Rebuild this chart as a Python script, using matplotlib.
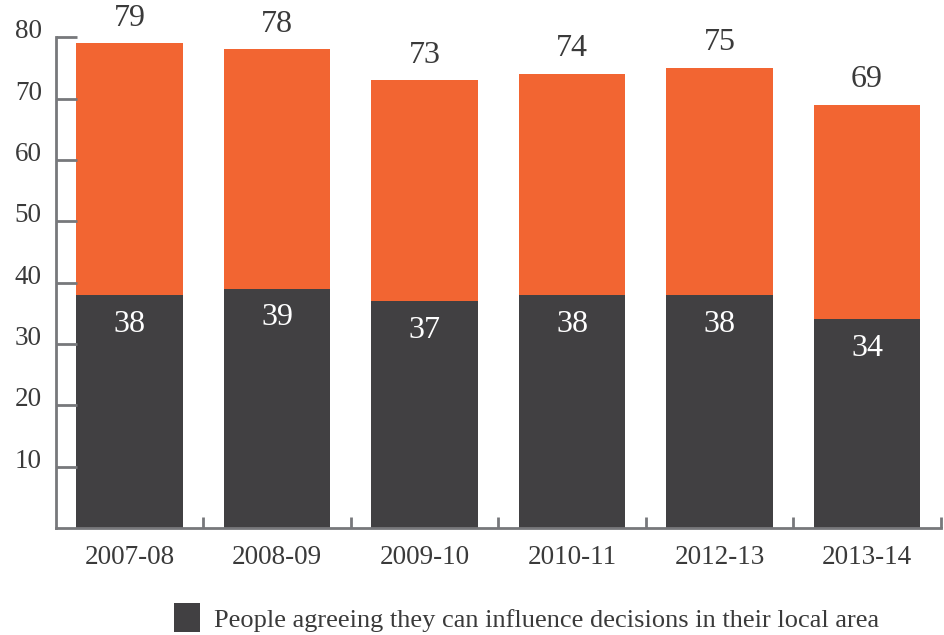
import matplotlib.pyplot as plt
from matplotlib.patches import Patch
import matplotlib.transforms as mtransforms

years = ["2007-08", "2008-09", "2009-10", "2010-11", "2012-13", "2013-14"]
total = [79, 78, 73, 74, 75, 69]
influence = [38, 39, 37, 38, 38, 34]
rest = [t - i for t, i in zip(total, influence)]

plt.rcParams['font.family'] = ['Liberation Serif', 'DejaVu Serif']

orange = '#F26532'
dark = '#414042'
axis_grey = '#77787B'
text_grey = '#3A3A3A'

fig = plt.figure(figsize=(9.45, 6.35), dpi=100)
ax = fig.add_axes([0.059, 0.1685, 0.9365, 0.773])

x = list(range(len(years)))
ax.bar(x, influence, width=0.72, color=dark)
ax.bar(x, rest, width=0.72, bottom=influence, color=orange)

for xi, t, i in zip(x, total, influence):
    ax.annotate(str(t), (xi, t), xytext=(0, 18), textcoords='offset points',
                ha='center', va='center', fontsize=23, color=text_grey)
    ax.annotate(str(i), (xi, i), xytext=(0, -21), textcoords='offset points',
                ha='center', va='center', fontsize=23, color='white')

ax.set_xlim(-0.5, len(years) - 0.5)
ax.set_ylim(0, 80)

ax.set_yticks(range(10, 81, 10))
ax.set_yticklabels([str(v) for v in range(10, 81, 10)], fontsize=19.5, color=text_grey)
ax.tick_params(axis='y', direction='in', length=15, width=2, color=axis_grey, pad=10)
offset = mtransforms.ScaledTranslation(0, 6 / 72, fig.dpi_scale_trans)
for lbl in ax.get_yticklabels():
    lbl.set_transform(lbl.get_transform() + offset)

ax.set_xticks([v - 0.5 for v in range(1, len(years) + 1)])
ax.set_xticklabels([])
ax.tick_params(axis='x', direction='in', length=8, width=2, color=axis_grey)
ax.set_xticks(x, minor=True)
ax.set_xticklabels(years, minor=True, fontsize=19.5, color=text_grey)
ax.tick_params(axis='x', which='minor', length=0, pad=12)

for side in ['top', 'right']:
    ax.spines[side].set_visible(False)
for side in ['left', 'bottom']:
    ax.spines[side].set_color(axis_grey)
    ax.spines[side].set_linewidth(2)

handle = Patch(facecolor=dark, edgecolor='none')
fig.legend([handle], ["People agreeing they can influence decisions in their local area"],
           loc='center', bbox_to_anchor=(0.557, 0.027), frameon=False,
           fontsize=19, handlelength=1.0, handleheight=1.3, handletextpad=0.5,
           labelcolor=text_grey, borderpad=0)

fig.savefig('out.png', dpi=100)
